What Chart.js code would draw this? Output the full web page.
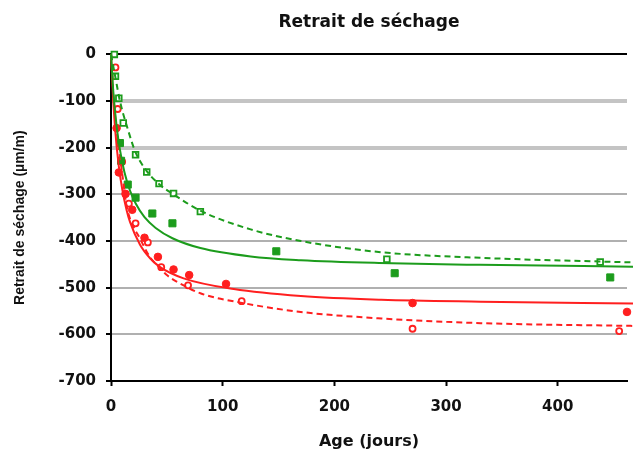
<!DOCTYPE html>
<html>
<head>
<meta charset="utf-8">
<script src="https://cdn.jsdelivr.net/npm/chart.js@4/dist/chart.umd.min.js"></script>
<style>
  html, body { margin: 0; padding: 0; background: #fff; }
  #wrap { width: 633px; height: 454px; }
</style>
</head>
<body>
<div id="wrap"><canvas id="retrait-chart"></canvas></div>
<script>
const green = '#1c9c1c'
const red = '#ff1f1f'

// measured points
const greenOpenDays = [3, 4, 7, 11, 22, 32, 43, 56, 80, 247, 438]
const greenOpenVals = [0, -47, -94, -147, -215, -252, -277, -298, -337, -439, -445]

const greenFullDays = [8, 9, 15, 22, 37, 55, 148, 254, 447]
const greenFullVals = [-190, -228, -279, -307, -341, -362, -422, -469, -478]

const redFullDays = [5, 7, 13, 19, 30, 42, 56, 70, 103, 270, 462]
const redFullVals = [-158, -253, -299, -333, -393, -434, -461, -473, -492, -533, -552]

const redOpenDays = [4, 6, 10, 16, 22, 33, 45, 69, 117, 270, 455]
const redOpenVals = [-28, -117, -230, -320, -362, -403, -456, -495, -529, -588, -593]

// fitted curves
const greenSolidDays = [0, 2, 5, 8, 12, 17, 22, 30, 40, 55, 80, 125, 170, 240, 330, 469]
const greenSolidVals = [0, -78, -153, -204, -252, -292, -319, -349, -372, -394, -415, -433, -441, -447, -451, -455]

const greenDashDays = [0, 4, 8, 15, 22, 32, 44, 56, 80, 125, 170, 242, 331, 469]
const greenDashVals = [0, -50, -100, -160, -210, -250, -280, -300, -335, -375, -400, -424, -436, -446]

const redSolidDays = [0, 2, 4, 7, 10, 14, 17, 26, 35, 44, 65, 110, 170, 242, 331, 469]
const redSolidVals = [0, -99, -169, -240, -288, -334, -359, -408, -437, -456, -480, -503, -518, -526, -530, -534]

const redDashDays = [0, 2, 4, 7, 10, 14, 17, 26, 35, 44, 50, 65, 80, 116, 170, 242, 331, 469]
const redDashVals = [0, -80, -140, -200, -255, -325, -352, -395, -435, -458, -473, -495, -512, -532, -552, -566, -576, -582]

const yTicks = [0, -100, -200, -300, -400, -500, -600, -700]
const xTicks = [0, 100, 200, 300, 400]

function pts(days, vals) {
    return days.map((d, i) => ({ x: d, y: vals[i] }))
}

function curve(days, vals, color, dashed) {
    return {
        type: 'line',
        data: pts(days, vals),
        borderColor: color,
        borderWidth: 2,
        borderDash: dashed ? [6, 4] : [],
        pointRadius: 0,
        cubicInterpolationMode: 'monotone',
        fill: false,
        clip: false
    }
}

function marks(days, vals, color, style, open, r) {
    return {
        type: 'scatter',
        data: pts(days, vals),
        pointStyle: style,
        pointRadius: r,
        pointBackgroundColor: open ? '#fff' : color,
        pointBorderColor: color,
        pointBorderWidth: open ? 1.8 : 1,
        showLine: false,
        clip: false
    }
}

const canvas = document.querySelector('#retrait-chart')

new Chart(canvas.getContext('2d'), {
    data: {
        datasets: [
            curve(greenSolidDays, greenSolidVals, green, false),
            curve(greenDashDays, greenDashVals, green, true),
            curve(redSolidDays, redSolidVals, red, false),
            curve(redDashDays, redDashVals, red, true),
            marks(greenFullDays, greenFullVals, green, 'rect', false, 5),
            marks(greenOpenDays, greenOpenVals, green, 'rect', true, 4),
            marks(redFullDays, redFullVals, red, 'circle', false, 3.8),
            marks(redOpenDays, redOpenVals, red, 'circle', true, 3)
        ]
    },
    options: {
        responsive: true,
        maintainAspectRatio: false,
        animation: false,
        layout: { padding: { top: 0, right: 0, bottom: 0, left: 0 } },
        plugins: {
            legend: { display: false },
            tooltip: { enabled: false },
            title: {
                display: true,
                text: 'Retrait de séchage',
                fullSize: false,
                color: '#111',
                font: { family: 'DejaVu Sans', size: 17, weight: 'bold' },
                padding: { top: 12, bottom: 22 }
            }
        },
        scales: {
            x: {
                type: 'linear',
                min: 0,
                max: 462,
                afterBuildTicks: scale => {
                    scale.ticks = xTicks.map(v => ({ value: v }))
                },
                afterFit: scale => { scale.height = 73 },
                ticks: {
                    color: '#111',
                    padding: 12,
                    maxRotation: 0,
                    font: { family: 'DejaVu Sans', size: 15, weight: 'bold' }
                },
                grid: {
                    drawOnChartArea: false,
                    drawTicks: true,
                    tickLength: 5,
                    tickColor: '#000',
                    tickWidth: 2
                },
                border: { color: '#000', width: 2 },
                title: {
                    display: true,
                    text: 'Age (jours)',
                    color: '#111',
                    font: { family: 'DejaVu Sans', size: 16, weight: 'bold' },
                    padding: { top: 0, bottom: 3 }
                }
            },
            y: {
                type: 'linear',
                min: -700,
                max: 0,
                afterBuildTicks: scale => {
                    scale.ticks = yTicks.map(v => ({ value: v }))
                },
                afterFit: scale => { scale.width = 111 },
                ticks: {
                    color: '#111',
                    padding: 10,
                    font: { family: 'DejaVu Sans', size: 15, weight: 'bold' }
                },
                grid: {
                    color: ctx => ctx.tick && ctx.tick.value === 0 ? '#000' : (ctx.tick && ctx.tick.value >= -200 ? '#c4c4c4' : '#b0b0b0'),
                    lineWidth: ctx => ctx.tick && ctx.tick.value === 0 ? 2 : (ctx.tick && ctx.tick.value >= -200 ? 4 : 2),
                    drawTicks: true,
                    tickLength: 5,
                    tickColor: '#000',
                    tickWidth: 2
                },
                border: { color: '#000', width: 2 },
                title: {
                    display: true,
                    text: 'Retrait de séchage (µm/m)',
                    color: '#111',
                    font: { family: 'Liberation Sans', size: 14, weight: 'bold' },
                    padding: { top: 12, bottom: 0 }
                }
            }
        }
    }
})
</script>
</body>
</html>
